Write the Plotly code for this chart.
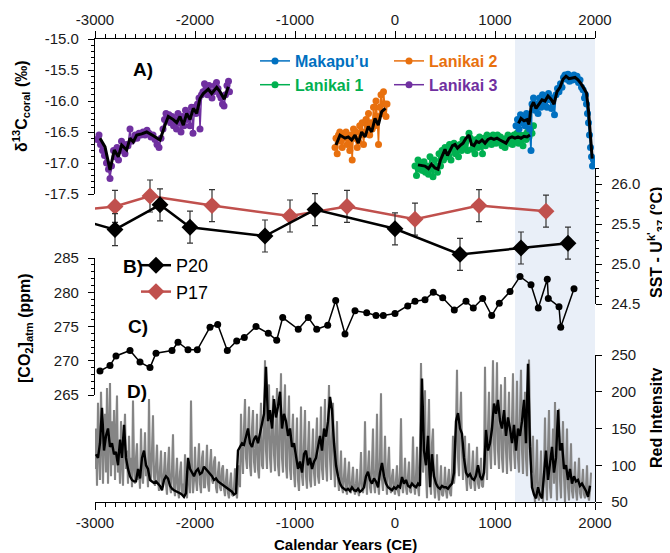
import plotly.graph_objects as go

# ---------------- Panel A: coral d13C (year, permil) ----------------
lanikai3 = [(-2980,-16.62),(-2960,-16.55),(-2945,-16.70),(-2925,-16.80),(-2905,-16.88),(-2885,-17.00),(-2865,-17.10),(-2850,-17.25),(-2835,-17.05),(-2815,-16.80),
            (-2800,-16.90),(-2780,-16.75),(-2765,-16.95),(-2750,-16.80),(-2735,-16.65),(-2720,-16.75),(-2700,-16.85),(-2685,-16.70),(-2670,-16.72),(-2650,-16.45),
            (-2635,-16.65),(-2620,-16.62),(-2600,-16.55),(-2580,-16.60),(-2560,-16.52),(-2540,-16.55),(-2520,-16.50),(-2500,-16.55),(-2480,-16.47),(-2460,-16.52),
            (-2440,-16.58),(-2420,-16.55),(-2400,-16.62),(-2380,-16.70),(-2360,-16.75),(-2340,-16.60),(-2320,-16.45),(-2305,-16.30),(-2290,-16.20),(-2275,-16.30),
            (-2260,-16.22),(-2245,-16.35),(-2230,-16.25),(-2215,-16.40),(-2200,-16.30),(-2185,-16.45),(-2170,-16.20),(-2155,-16.35),(-2140,-16.50),(-2125,-16.25),
            (-2110,-16.40),(-2095,-16.15),(-2080,-16.30),(-2065,-16.20),(-2050,-16.40),(-2035,-16.10),(-2020,-16.52),(-2005,-16.10),(-1990,-16.20),(-1975,-16.05),
            (-1960,-15.95),(-1950,-16.45),(-1935,-15.90),(-1920,-15.85),(-1905,-15.72),(-1890,-15.80),(-1875,-15.90),(-1860,-15.75),(-1845,-15.85),(-1830,-15.95),
            (-1815,-15.85),(-1800,-15.75),(-1785,-15.70),(-1770,-15.80),(-1755,-15.90),(-1740,-15.95),(-1725,-16.05),(-1710,-16.08),(-1695,-15.90),(-1680,-15.75),
            (-1665,-15.68),(-1655,-15.85)]
lanikai3_smooth = [(-2950,-16.60),(-2900,-16.74),(-2850,-17.11),(-2807,-16.79),(-2767,-16.90),(-2733,-16.71),(-2683,-16.79),(-2650,-16.60),(-2617,-16.66),
                   (-2583,-16.55),(-2533,-16.53),(-2483,-16.50),(-2417,-16.56),(-2350,-16.63),(-2300,-16.39),(-2267,-16.25),(-2217,-16.30),(-2183,-16.35),
                   (-2150,-16.25),(-2117,-16.39),(-2083,-16.20),(-2050,-16.30),(-2017,-16.12),(-1983,-16.20),(-1950,-15.96),(-1917,-15.88),(-1867,-15.81),
                   (-1833,-15.88),(-1783,-15.78),(-1750,-15.85),(-1707,-15.97),(-1667,-15.77)]

lanikai2 = [(-600,-16.75),(-590,-16.60),(-578,-16.85),(-565,-16.55),(-552,-16.50),(-540,-16.65),(-528,-16.75),(-515,-16.55),(-503,-16.60),(-490,-16.50),
            (-478,-16.70),(-465,-16.60),(-452,-16.80),(-440,-16.55),(-428,-16.95),(-415,-16.45),(-403,-16.60),(-390,-16.50),(-378,-16.75),(-365,-16.65),
            (-353,-16.40),(-340,-16.55),(-328,-16.35),(-315,-16.70),(-303,-16.50),(-290,-16.30),(-278,-16.40),(-265,-16.20),(-253,-16.55),(-240,-16.35),
            (-228,-16.45),(-215,-16.10),(-203,-16.40),(-190,-16.00),(-178,-16.25),(-165,-16.70),(-153,-16.10),(-140,-15.90),(-128,-16.20),(-115,-15.85),
            (-103,-16.05),(-90,-16.25),(-80,-16.05)]
lanikai2_smooth = [(-590,-16.71),(-550,-16.55),(-500,-16.60),(-467,-16.58),(-433,-16.63),(-400,-16.55),(-367,-16.68),(-333,-16.50),(-300,-16.58),
                   (-267,-16.41),(-233,-16.50),(-200,-16.28),(-167,-16.39),(-133,-16.17),(-95,-16.12)]

lanikai1 = [(200,-17.05),(215,-17.20),(230,-16.95),(245,-17.10),(260,-17.00),(275,-17.12),(290,-16.98),(305,-17.15),(320,-17.05),(335,-17.18),
            (350,-16.90),(365,-17.10),(380,-17.22),(395,-16.95),(410,-17.05),(425,-17.15),(440,-16.85),(455,-17.05),(470,-16.80),(485,-16.95),
            (500,-16.75),(515,-16.90),(530,-16.85),(545,-16.70),(560,-16.95),(575,-16.78),(590,-16.68),(605,-16.85),(620,-16.72),(635,-16.90),
            (650,-16.70),(665,-16.80),(680,-16.62),(695,-16.75),(710,-16.65),(725,-16.80),(740,-16.52),(755,-16.60),(770,-16.78),(785,-16.70),
            (800,-16.85),(815,-16.62),(830,-16.75),(845,-16.58),(860,-16.70),(875,-16.85),(890,-16.60),(905,-16.72),(920,-16.55),(935,-16.65),
            (950,-16.58),(965,-16.70),(980,-16.55),(995,-16.62),(1010,-16.68),(1025,-16.55),(1040,-16.65),(1055,-16.58),(1070,-16.72),(1085,-16.62),
            (1100,-16.75),(1115,-16.60),(1130,-16.55),(1145,-16.68),(1160,-16.58),(1175,-16.70),(1190,-16.55),(1205,-16.65),(1220,-16.52),(1235,-16.68),
            (1250,-16.55),(1265,-16.62),(1280,-16.72),(1295,-16.55),(1310,-16.62),(1325,-16.50),(1340,-16.58),(1355,-16.45),(1370,-16.52),(1385,-16.40)]
lanikai1_smooth = [(230,-17.03),(265,-17.04),(300,-17.05),(335,-17.09),(365,-17.02),(400,-17.08),(430,-17.10),(455,-16.95),(480,-16.85),(500,-16.78),
                   (525,-16.88),(550,-16.80),(575,-16.72),(600,-16.70),(625,-16.76),(650,-16.72),(680,-16.68),(710,-16.60),(740,-16.55),(765,-16.70),
                   (790,-16.72),(815,-16.65),(840,-16.67),(870,-16.63),(900,-16.68),(930,-16.62),(960,-16.60),(990,-16.62),(1020,-16.60),(1050,-16.63),
                   (1080,-16.66),(1110,-16.68),(1140,-16.60),(1170,-16.58),(1200,-16.60),(1230,-16.58),(1260,-16.60),(1290,-16.57),(1320,-16.58),(1350,-16.55)]

makapuu = [(1210,-16.40),(1225,-16.30),(1240,-16.45),(1255,-16.22),(1270,-16.35),(1285,-16.25),(1300,-16.40),(1315,-16.20),(1330,-16.30),(1345,-16.45),
           (1360,-16.80),(1370,-16.05),(1385,-15.95),(1400,-16.15),(1415,-16.05),(1430,-16.20),(1445,-15.95),(1460,-16.10),(1475,-15.90),(1490,-16.05),
           (1505,-15.95),(1520,-16.10),(1535,-15.88),(1550,-15.98),(1565,-16.12),(1580,-15.95),(1595,-16.22),(1610,-15.90),(1625,-15.80),(1640,-15.85),
           (1655,-15.72),(1670,-15.78),(1685,-15.62),(1700,-15.58),(1715,-15.65),(1730,-15.57),(1745,-15.68),(1760,-15.60),(1775,-15.66),(1790,-15.58),
           (1805,-15.64),(1820,-15.60),(1835,-15.70),(1850,-15.66),(1865,-15.78),(1880,-15.82),(1895,-15.95),(1905,-15.90),(1915,-16.05),(1925,-16.20),
           (1935,-16.35),(1945,-16.55),(1955,-16.75),(1965,-16.90),(1975,-17.05),(1985,-16.95)]
makapuu_smooth = [(1235,-16.36),(1260,-16.28),(1290,-16.32),(1320,-16.30),(1340,-16.38),(1360,-16.10),(1385,-16.02),(1410,-16.12),(1440,-16.05),
                  (1470,-15.98),(1500,-16.00),(1530,-15.92),(1560,-15.97),(1590,-16.05),(1620,-15.85),(1650,-15.78),(1680,-15.65),(1710,-15.60),
                  (1740,-15.64),(1770,-15.63),(1800,-15.62),(1830,-15.66),(1860,-15.72),(1890,-15.80),(1915,-15.87),(1935,-16.15),(1950,-16.42),(1972,-16.93)]

# ---------------- Panel B: SST Uk'37 (year, degC), error +/-0.2 ----------------
p20 = [(-3200,25.57),(-2800,25.43),(-2350,25.74),(-2050,25.46),(-1300,25.35),(-800,25.68),(0,25.44),(650,25.12),(1260,25.20),(1730,25.26)]
p17 = [(-3200,25.67),(-2800,25.72),(-2450,25.85),(-1830,25.73),(-1050,25.60),(-480,25.72),(200,25.56),(840,25.73),(1510,25.66)]
sst_err = 0.2

# ---------------- Panel C: atmospheric CO2 (year, ppm) ----------------
co2 = [(-2950,268.5),(-2850,269.3),(-2790,270.7),(-2650,271.5),(-2550,269.8),(-2450,269.0),(-2390,271.1),(-2230,271.5),(-2170,272.7),
       (-2070,271.6),(-1977,271.6),(-1850,274.9),(-1773,275.3),(-1677,271.5),(-1583,272.9),(-1507,273.4),(-1390,275.0),(-1267,274.0),
       (-1183,273.0),(-1123,276.3),(-967,274.6),(-867,276.3),(-783,274.6),(-673,275.2),(-593,278.8),(-500,273.9),(-400,277.3),(-283,277.0),
       (-190,276.6),(-117,276.6),(0,276.9),(127,278.0),(200,278.7),(300,278.9),(383,280.0),(477,279.2),(593,277.4),(710,278.7),(783,277.7),
       (877,279.1),(967,276.6),(1043,278.4),(1150,280.1),(1250,282.3),(1360,281.1),(1433,277.7),(1523,281.9),(1533,279.1),(1640,277.9),
       (1657,274.9),(1790,280.5)]

# ---------------- Panel D: red intensity (raw, 10-yr steps from -3000) ----------------
red_raw_start, red_raw_step = -3000, 10
red_raw = [
    95,150,72,185,120,80,200,110,75,140,      # -3000
    170,90,205,75,130,212,85,160,100,175,     # -2900
    80,140,195,90,120,75,160,105,72,130,      # -2800
    170,95,120,75,140,85,110,70,188,100,      # -2700
    75,110,130,80,95,68,150,90,75,105,        # -2600
    145,85,100,70,190,95,80,120,168,85,       # -2500
    72,100,128,80,65,95,120,75,70,90,         # -2400
    118,75,60,100,125,70,62,95,142,70,        # -2300
    58,85,110,65,55,90,105,60,75,60,          # -2200
    115,70,55,85,100,62,188,95,62,80,         # -2100
    125,80,65,100,130,75,62,110,120,70,       # -2000
    70,95,128,75,64,100,122,80,75,105,        # -1900
    112,70,62,90,105,70,65,95,100,68,         # -1800
    58,80,95,62,55,75,90,60,58,70,            # -1700
    96,65,55,80,100,70,170,120,88,150,        # -1600
    190,110,95,140,180,100,85,150,175,105,    # -1500
    90,130,170,95,82,140,185,100,95,150,      # -1400
    243,120,95,160,210,110,90,150,195,115,    # -1300
    92,150,205,100,85,160,225,110,90,170,     # -1200
    210,100,82,150,195,95,80,140,170,90,      # -1100
    70,120,165,80,65,110,180,85,72,130,       # -1000
    175,85,68,120,160,80,70,115,150,90,       # -900
    72,130,165,85,75,120,180,95,80,140,       # -800
    190,100,78,150,209,110,80,140,185,100,    # -700
    70,115,160,80,65,90,120,70,62,85,         # -600
    110,70,60,85,105,65,62,80,98,68,          # -500
    60,75,95,65,58,80,118,70,62,75,           # -400
    160,80,60,95,120,70,62,100,150,75,        # -300
    62,95,170,75,60,110,198,80,65,90,         # -200
    140,80,60,100,125,70,62,85,95,68,         # -100
    60,80,100,65,58,90,164,75,62,80,          # 0
    110,70,60,85,105,65,62,80,139,75,         # 100
    60,85,125,70,58,120,239,150,90,110,       # 200
    202,90,55,140,190,80,60,130,150,75,       # 300
    55,80,115,65,52,75,100,60,58,70,          # 400
    98,65,55,80,95,62,58,90,140,75,           # 500
    90,150,230,110,85,160,200,120,80,110,     # 600
    140,85,65,100,130,75,68,95,120,80,        # 700
    65,90,125,75,68,85,110,72,70,95,          # 800
    234,110,80,150,200,120,95,160,243,130,    # 900
    100,170,240,120,95,160,210,110,90,150,    # 1000
    220,120,88,150,200,110,92,160,225,120,    # 1100
    95,150,215,110,90,170,230,120,88,150,     # 1200
    200,110,85,160,244,150,100,90,140,70,     # 1300
    50,90,135,60,52,80,120,65,50,90,          # 1400
    165,80,52,120,175,70,55,110,150,75,       # 1500
    186,90,52,130,177,80,55,120,160,85,       # 1600
    50,100,150,70,52,90,130,65,55,80,         # 1700
    105,65,52,80,110,62,55,75,95,60,          # 1800
    55,70,100,60,52,65,90]                    # 1900
# smoothed red intensity (20-yr steps from -2990)
red_smooth_start, red_smooth_step = -2990, 20
red_smooth = [
    115,110,130,178,120, 140,150,125,130,115, 118,100,135,110,155, 110,95,85,80,78,   78,95,82,110,120,
    100,95,80,78,76,     78,75,72,66,80,      85,82,72,68,66,      65,64,62,60,57,    62,110,95,90,85,
    92,95,88,90,98,      95,92,88,85,80,      82,78,76,75,72,      70,68,66,64,60,    62,120,125,130,128,
    140,150,130,125,135, 140,130,145,160,170, 234,160,175,150,190, 165,180,200,150,170, 160,140,150,125,130,
    110,95,105,90,115,   120,100,110,95,105,  110,125,140,120,150, 139,160,193,175,130, 100,85,75,70,68,
    66,68,65,70,66,      65,68,64,66,70,      85,91,80,75,82,      78,70,90,103,85,   75,70,68,66,70,
    68,72,70,84,75,      80,72,70,75,72,      70,75,72,218,120,    100,140,70,115,85, 75,70,68,72,70,
    70,68,72,75,90,      160,171,150,143,110, 90,85,88,82,80,      86,100,85,80,90,   148,120,130,150,184,
    170,189,160,150,175, 140,165,150,130,155, 120,150,140,160,189, 130,238,125,70,60, 55,70,60,55,95,
    120,80,100,125,90,   110,175,120,130,95,  100,80,95,75,85,     78,80,72,75,70,    65,57,72]

# tick labels
x_ticks = [-3000, -2000, -1000, 0, 1000, 2000]
x_ticktext = ["-3000", "-2000", "-1000", "0", "1000", "2000"]
d13c_ticks = [-15.0, -15.5, -16.0, -16.5, -17.0, -17.5]
d13c_ticktext = ["-15.0", "-15.5", "-16.0", "-16.5", "-17.0", "-17.5"]

# colors
C_MAK, C_L1, C_L2, C_L3 = "#0070C0", "#00B050", "#E8700E", "#7030A0"
C_P17 = "#C0504D"
FONT = "Arial, 'Liberation Sans', sans-serif"

def xs(d):
    return [p[0] for p in d]

def ys(d):
    return [p[1] for p in d]

fig = go.Figure()

# Panel D
red_raw_x = [red_raw_start + red_raw_step * i for i in range(len(red_raw))]
red_smooth_x = [red_smooth_start + red_smooth_step * i for i in range(len(red_smooth))]
fig.add_trace(go.Scatter(x=red_raw_x, y=red_raw, xaxis="x", yaxis="y4", mode="lines",
                         line=dict(color="#858585", width=2.1), showlegend=False, hoverinfo="skip"))
fig.add_trace(go.Scatter(x=red_smooth_x, y=red_smooth, xaxis="x", yaxis="y4", mode="lines",
                         line=dict(color="black", width=2.4), showlegend=False, hoverinfo="skip"))

# Panel C
fig.add_trace(go.Scatter(x=xs(co2), y=ys(co2), xaxis="x", yaxis="y3", mode="lines+markers",
                         line=dict(color="black", width=1.5), marker=dict(color="black", size=7),
                         showlegend=False))

# Panel B
err = dict(type="constant", value=sst_err, color="#333333", thickness=1.2, width=3)
fig.add_trace(go.Scatter(x=xs(p17), y=ys(p17), xaxis="x", yaxis="y2", mode="lines+markers", name="P17",
                         line=dict(color=C_P17, width=2.5), marker=dict(color=C_P17, size=13, symbol="diamond"),
                         error_y=err, legend="legend3", legendrank=2))
fig.add_trace(go.Scatter(x=xs(p20), y=ys(p20), xaxis="x", yaxis="y2", mode="lines+markers", name="P20",
                         line=dict(color="black", width=2.5), marker=dict(color="black", size=13, symbol="diamond"),
                         error_y=err, legend="legend3", legendrank=1))

# Panel A
def coral(data, color, name, legend, rank):
    fig.add_trace(go.Scatter(x=xs(data), y=ys(data), xaxis="x", yaxis="y", mode="lines+markers",
                             name='<span style="color:%s"><b>%s</b></span>' % (color, name),
                             line=dict(color=color, width=1.5), marker=dict(color=color, size=7),
                             legend=legend, legendrank=rank))

coral(lanikai3, C_L3, "Lanikai 3", "legend2", 2)
coral(lanikai2, C_L2, "Lanikai 2", "legend2", 1)
coral(lanikai1, C_L1, "Lanikai 1", "legend", 2)
coral(makapuu, C_MAK, "Makapu\u2019u", "legend", 1)
for sm in (lanikai3_smooth, lanikai2_smooth, lanikai1_smooth, makapuu_smooth):
    fig.add_trace(go.Scatter(x=xs(sm), y=ys(sm), xaxis="x", yaxis="y", mode="lines",
                             line=dict(color="black", width=3), showlegend=False, hoverinfo="skip"))

# dummy trace so the top axis is drawn
fig.add_trace(go.Scatter(x=[x_ticks[0], x_ticks[-1]], y=[-16, -16], xaxis="x2", yaxis="y", mode="markers",
                         marker=dict(opacity=0), showlegend=False, hoverinfo="skip"))

# page body has an 8px margin; compensate so the plot lands where the reference has it
OFF = 8
W, H = 670 - OFF, 553 - OFF
PL, PR, PT, PB = 95, 595, 39, 502          # plot area in screen pixels
L, T = PL - OFF, PT - OFF
R, B = W - (PR - OFF), H - (PB - OFF)

def fy(py):
    return (PB - py) / (PB - PT)

def fx(px):
    return (px - PL) / (PR - PL)

tickfont = dict(family=FONT, size=15, color="#1a1a1a")
common_x = dict(range=[-3000, 2000], tickmode="array", tickvals=x_ticks, ticktext=x_ticktext,
                showline=True, linecolor="black", linewidth=1.3, ticks="outside", ticklen=7, tickwidth=1.3,
                tickcolor="black", tickfont=tickfont, showgrid=False, zeroline=False, automargin=False,
                minor=dict(tickmode="linear", tick0=0, dtick=100, ticks="outside", ticklen=4,
                           tickcolor="black", tickwidth=1, showgrid=False))
common_y = dict(showline=True, linecolor="black", linewidth=1.3, ticks="outside", ticklen=6, tickwidth=1.3,
                tickcolor="black", tickfont=tickfont, showgrid=False, zeroline=False, ticklabelstandoff=6,
                automargin=False)

fig.update_layout(
    width=W, height=H, margin=dict(l=L, r=R, t=T, b=B, autoexpand=False),
    paper_bgcolor="white", plot_bgcolor="rgba(0,0,0,0)", font=dict(family=FONT, color="black"),
    xaxis=dict(common_x, domain=[0, 1], anchor="free", position=0),
    xaxis2=dict(common_x, overlaying="x", side="top", anchor="y"),
    yaxis=dict(common_y, domain=[fy(194), 1], range=[-17.5, -15.0], side="left", anchor="x",
               tickmode="array", tickvals=d13c_ticks, ticktext=d13c_ticktext,
               minor=dict(tickmode="linear", tick0=-15, dtick=0.1, ticks="outside", ticklen=3,
                          tickcolor="black", showgrid=False)),
    yaxis2=dict(common_y, domain=[fy(304), fy(168)], range=[24.5, 26.2], side="right", anchor="x",
                dtick=0.5, tick0=24.5, tickformat=".1f",
                minor=dict(dtick=0.1, ticks="outside", ticklen=3, tickcolor="black", showgrid=False)),
    yaxis3=dict(common_y, domain=[fy(395), fy(258)], range=[265, 285], side="left", anchor="x",
                dtick=5, tick0=265,
                minor=dict(dtick=1, ticks="outside", ticklen=3, tickcolor="black", showgrid=False)),
    yaxis4=dict(common_y, domain=[0, fy(355)], range=[50, 250], side="right", anchor="x",
                dtick=50, tick0=50),
    legend=dict(x=fx(255), y=fy(44), xanchor="left", yanchor="top", bgcolor="rgba(0,0,0,0)",
                font=dict(family=FONT, size=16), tracegroupgap=0, itemwidth=30),
    legend2=dict(x=fx(389), y=fy(44), xanchor="left", yanchor="top", bgcolor="rgba(0,0,0,0)",
                 font=dict(family=FONT, size=16), tracegroupgap=0, itemwidth=30),
    legend3=dict(x=fx(136), y=fy(247), xanchor="left", yanchor="top", bgcolor="rgba(0,0,0,0)",
                 font=dict(family=FONT, size=18, color="black"), tracegroupgap=0, itemwidth=30),
    shapes=[dict(type="rect", xref="x", yref="paper", x0=1200, x1=2000, y0=0, y1=1,
                 fillcolor="#E9EFF8", line=dict(width=0), layer="below")],
)

def ann(text, px, py, size, angle=0, bold=True):
    fig.add_annotation(text=("<b>%s</b>" % text) if bold else text, x=fx(px), y=fy(py),
                       xref="paper", yref="paper", showarrow=False, textangle=angle,
                       font=dict(family=FONT, size=size, color="black"), xanchor="center", yanchor="middle")

ann("A)", 143, 70, 19)
ann("B)", 133, 266, 19)
ann("C)", 138, 326, 19)
ann("D)", 137, 392, 19)
ann("\u03b4<sup>13</sup>C<sub>coral</sub> (\u2030)", 21, 106, 16, -90)
ann("[CO<sub>2</sub>]<sub>atm</sub> (ppm)", 25, 328, 16, -90)
ann("SST - U<sup>k'</sup><sub>37</sub> (\u00b0C)", 656, 243, 16, -90)
ann("Red Intensity", 656, 418, 16, -90)
ann("Calendar Years (CE)", 345, 544, 15)

fig.write_html("out.html")
